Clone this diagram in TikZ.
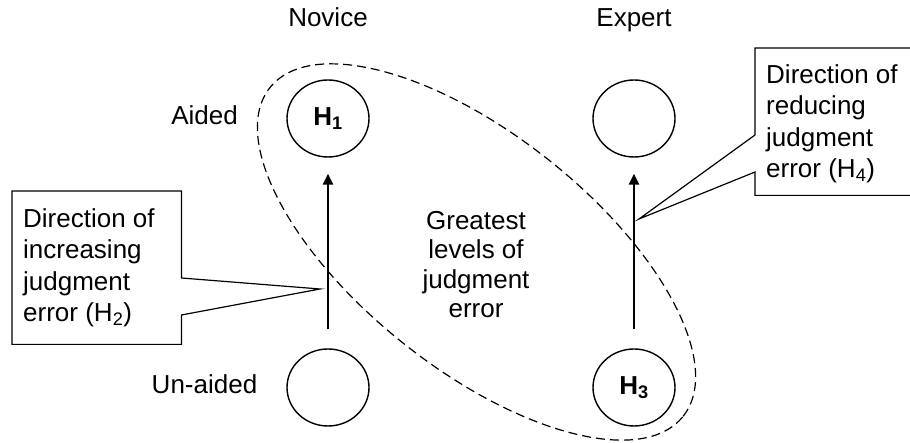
\documentclass[tikz,border=0pt]{standalone}
\usepackage{fontspec}
\setmainfont{Liberation Sans}
\usetikzlibrary{arrows.meta,calc,shapes.geometric}
\begin{document}
\begin{tikzpicture}[x=1pt,y=1pt,
  lbl/.style={font=\fontsize{26}{31}\selectfont, inner sep=0pt},
  circ/.style={ellipse, draw, line width=1.4pt, minimum width=82pt, minimum height=77pt, inner sep=0pt, font=\fontsize{26}{31}\selectfont\bfseries},
  arr/.style={line width=2.6pt, -{Triangle[length=11pt,width=10pt]}},
  callout/.style={draw, line width=1.2pt, line join=miter},
  frame/.style={inner sep=0pt, anchor=north west, minimum width=169pt},
  ctext/.style={font=\fontsize{26}{31.5}\selectfont, align=left, inner sep=0pt, anchor=north west},
  zonestyle/.style={ellipse, draw, line width=1.2pt, dash pattern=on 9pt off 5pt, inner sep=0pt}
]
\useasboundingbox (0,0) rectangle (910,443);
\clip (0,0) rectangle (910,443);

% dashed zone
\node[zonestyle, minimum width=528pt, minimum height=234pt, rotate=-38.5] (zone) at (476.5,191) {};

% column and row labels
\node[lbl, anchor=base] (novice) at (328,416) {Novice};
\node[lbl, anchor=base] (expert) at (634,416) {Expert};
\node[lbl, anchor=base] (aided) at (204.5,318) {Aided};
\node[lbl, anchor=base] (unaided) at (204.5,49) {Un-aided};

% circles
\node[circ] (h1) at (328,324.5) {H\textsubscript{1}};
\node[circ] (et) at (634,324.5) {};
\node[circ] (bl) at (328,55.5) {};
\node[circ] (h3) at (634,55.5) {H\textsubscript{3}};

% arrows
\draw[arr, shorten <=19pt, shorten >=16pt] (bl) -- (h1);
\draw[arr, shorten <=19pt, shorten >=16pt] (h3) -- (et);

% middle text
\node[lbl, align=center, anchor=north, font=\fontsize{26}{29.5}\selectfont] (mid) at (476,232) {Greatest\\levels of\\judgment\\error};

% left callout
\node[frame, minimum height=153pt] (lb) at (12,252) {};
\coordinate (lt) at (320,154);
\draw[callout] (lb.north west) -- (lb.north east) -- ($(lb.north east)+(0,-87)$) -- (lt) -- ($(lb.north east)+(0,-124)$) -- (lb.south east) -- (lb.south west) -- cycle;
\node[ctext] (ltext) at (23,235) {Direction of\\increasing\\judgment\\error (H\textsubscript{2})};

% right callout
\node[frame, minimum height=147pt] (rb) at (755,395) {};
\coordinate (rt) at (639,224);
\draw[callout] (rb.north east) -- (rb.north west) -- ($(rb.north west)+(0,-87)$) -- (rt) -- ($(rb.north west)+(0,-124)$) -- (rb.south west) -- (rb.south east) -- cycle;
\node[ctext] (rtext) at (766,379) {Direction of\\reducing\\judgment\\error (H\textsubscript{4})};
\end{tikzpicture}
\end{document}
